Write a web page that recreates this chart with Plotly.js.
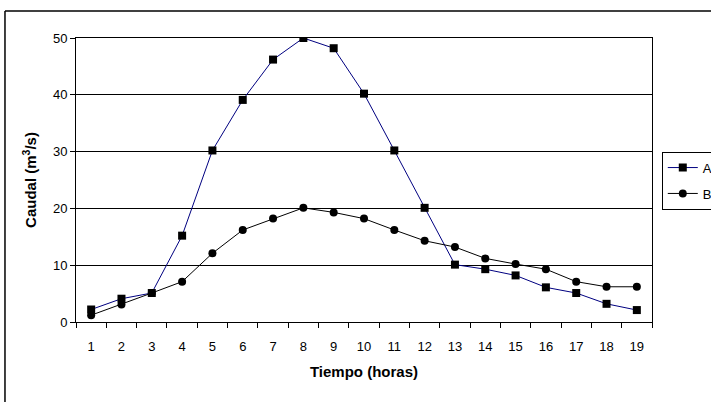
<!DOCTYPE html>
<html>
<head>
<meta charset="utf-8">
<script src="https://cdn.plot.ly/plotly-3.0.1.min.js"></script>
<style>
html,body{margin:0;padding:0;background:#fff;}
#chart{width:711px;height:402px;}
</style>
</head>
<body>
<div id="chart"></div>
<script>
var hours = ["1","2","3","4","5","6","7","8","9","10","11","12","13","14","15","16","17","18","19"];
var seriesA = [2.2,4.1,5.1,15.2,30.2,39.1,46.2,50,48.2,40.2,30.2,20.1,10.1,9.3,8.2,6.1,5.1,3.2,2.1];
var seriesB = [1.2,3.1,5.1,7.1,12.1,16.2,18.2,20.1,19.3,18.2,16.2,14.3,13.2,11.2,10.2,9.3,7.1,6.2,6.2];
var yTicks = [0,10,20,30,40,50];

var traceA = {
  x: hours, y: seriesA, name: "A", legendgroup: "a", type: "scatter", mode: "lines+markers",
  line: {color: "#000080", width: 1},
  marker: {symbol: "square", size: 8, color: "#000000"}
};
var traceB = {
  x: hours, y: seriesB, name: "B", legendgroup: "b", type: "scatter", mode: "lines+markers",
  line: {color: "#000000", width: 1},
  marker: {symbol: "circle", size: 8, color: "#000000"}
};

var fam = "Liberation Sans, Arial, sans-serif";

var layout = {
  width: 711, height: 402,
  paper_bgcolor: "#fff", plot_bgcolor: "#fff",
  font: {family: fam, size: 13, color: "#000"},
  margin: {l: 76, r: 59, t: 38, b: 80, autoexpand: false},
  showlegend: true,
  legend: {
    x: 1.017, xanchor: "left", y: 0.6, yanchor: "top",
    bordercolor: "#000", borderwidth: 1, bgcolor: "#fff",
    font: {family: fam, size: 13, color: "#000"},
    traceorder: "grouped", tracegroupgap: 6
  },
  xaxis: {
    type: "category", tickson: "boundaries", range: [-0.5, 18.5],
    showgrid: false, zeroline: false,
    showline: true, linecolor: "#000", linewidth: 1, mirror: true,
    ticks: "outside", ticklen: 5, tickcolor: "#000",
    ticklabelstandoff: 12,
    tickfont: {family: fam, size: 13, color: "#000"},
    title: {text: "<b>Tiempo (horas)</b>", font: {family: fam, size: 15, color: "#000"}}
  },
  yaxis: {
    range: [0, 50], tickvals: yTicks,
    showgrid: true, gridcolor: "#000", gridwidth: 1,
    zeroline: false,
    showline: true, linecolor: "#000", linewidth: 1, mirror: true,
    ticks: "outside", ticklen: 5, tickcolor: "#000",
    tickfont: {family: fam, size: 13, color: "#000"},
    title: {text: "<b>Caudal (m<sup>3</sup>/s)</b>", font: {family: fam, size: 15, color: "#000"}}
  },
  shapes: [
    {type: "line", xref: "paper", yref: "paper", x0: -0.1233, x1: 1.12, y0: 1.095, y1: 1.095, line: {color: "#000", width: 1.5}},
    {type: "line", xref: "paper", yref: "paper", x0: -0.1233, x1: -0.1233, y0: 1.095, y1: -0.3, line: {color: "#000", width: 1.5}}
  ]
};

Plotly.newPlot("chart", [traceA, traceB], layout, {displayModeBar: false, staticPlot: true});
</script>
</body>
</html>
